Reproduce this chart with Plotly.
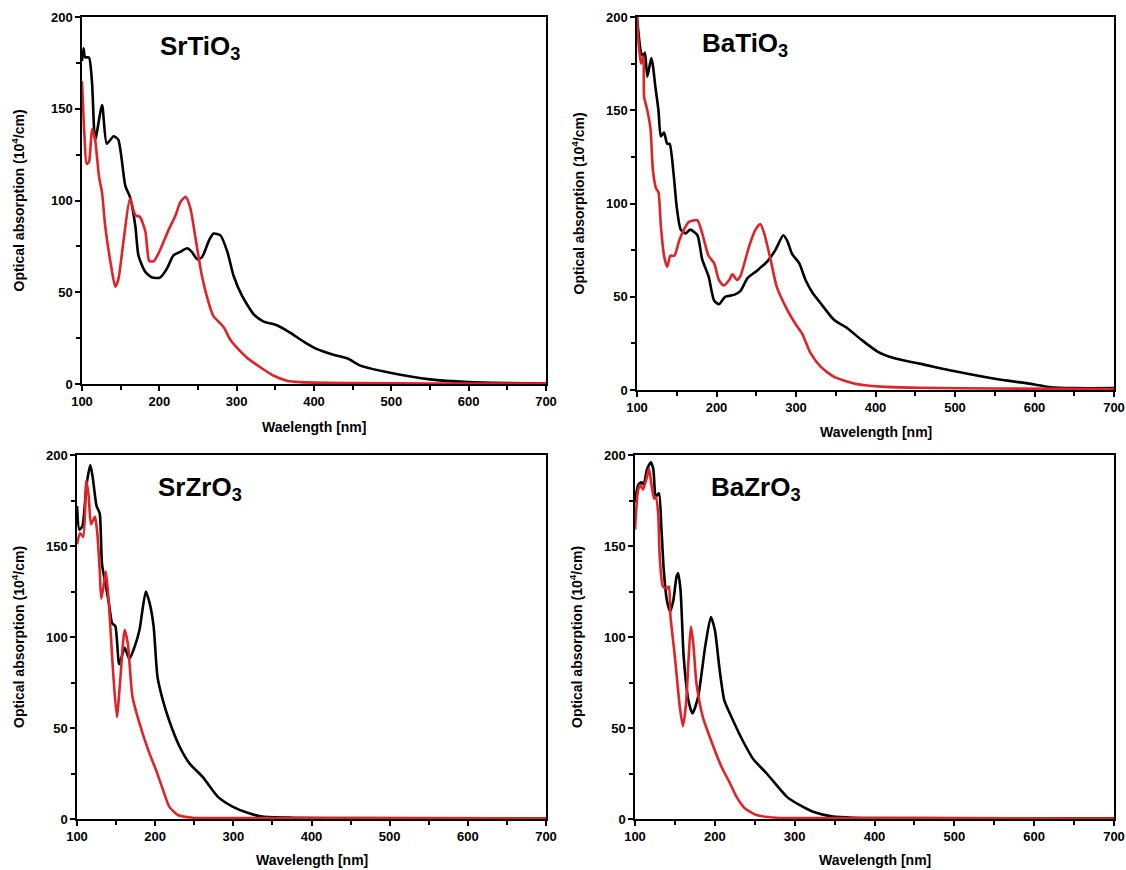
import plotly.graph_objects as go

# ---------------- data ----------------
# SrTiO3
srtio3_black_x = [100,102,104,109,113,117,126,132,141,147,156,162,169,173,182,191,201,210,218,227,236,242,249,255,264,270,279,288,296,307,322,335,352,369,387,404,425,443,460,500,550,600,650,700]
srtio3_black_y = [176,183,178,178,164,133,152,131,135,133,108,102,86,70,61,58,58,63,70,72,74,72,68,69,78,82,81,72,59,48,38,34,32,28,23,19,16,14,10,6,2.5,1,0.5,0.3]
srtio3_red_x = [100,103,106,109,113,117,122,126,130,137,143,147,154,162,169,175,182,187,193,201,212,221,227,234,240,247,255,264,270,283,292,300,313,331,348,365,382,450,550,700]
srtio3_red_y = [165,137,120,121,139,133,113,104,86,66,53,57,79,101,92,91,83,67,67,73,84,92,99,102,96,79,59,44,37,31,24,20,14.5,9,4.5,1.8,1,0.5,0.3,0.2]

# BaTiO3
batio3_black_x = [100,102,105,108,110,113,118,120,123,127,130,134,138,141,146,150,155,161,167,176,182,190,197,203,211,222,230,239,251,264,274,284,289,295,304,312,321,331,348,365,382,403,424,445,457,500,550,600,620,650,700]
batio3_black_y = [200,191,181,179,181,168,178,174,163,150,136,138,132,132,116,98,86,84,86,83,70,61,48,46,50,51,53,60,64,69,75,83,80,73,68,59,52,46.5,37.5,33,27,20.5,17,15,14,10,6,3,1.5,1,1]
batio3_red_x = [100,102,105,108,109,113,117,120,124,127,130,134,138,142,147,153,159,165,176,182,190,197,203,209,216,220,226,230,241,249,255,260,268,276,289,300,308,318,331,348,373,407,457,550,700]
batio3_red_y = [200,186,175,179,157,150,140,118,108,106,88,72,66,72,72,80,86,90,91,84,72,68,59,56,59,62,59,61,77,86,89,84,70,55,43,35,30,20,12.5,7,3.5,1.8,1.2,0.8,0.5]

# SrZrO3
srzro3_black_x = [100,103,107,112,117,120,125,129,132,137,141,145,149,154,161,167,174,180,188,193,198,203,210,218,231,244,261,280,299,320,337,376,450,700]
srzro3_black_y = [172,159,161,183,194.5,188,172,168,140,128,118,107.5,106,85,94,88,95,104,125,118.5,106,78,65,54,40,30.5,23,12.3,6.8,3.1,1.3,0.7,0.5,0.3]
srzro3_red_x = [100,104,108,112,115,118,123,126,129,131,134,137,141,146,151,155,161,165,171,180,191,201,210,218,229,248,300,700]
srzro3_red_y = [151,157,155,186,177,162,166,157,137,121,128,136,117,82,56,74.5,104,96.5,67,52.5,38,27,16,6.8,2.2,0.7,0.5,0.3]

# BaZrO3
bazro3_black_x = [100,104,108,111,115,120,123,126,130,133,136,140,144,148,152,154,157,161,167,172,179,188,195,200,206,212,223,235,248,265,290,306,323,348,373,450,700]
bazro3_black_y = [174,183.5,185,184,192,196,192,177,179,160.5,137,120,114,120,133,135,126,89,65,58,67,95,111,104,82,65,54,43,33,25,12.3,7.7,4,1.3,0.7,0.5,0.4]
bazro3_red_x = [100,104,107,110,115,117.5,121,124,126,129,131,135,140,142.5,144.5,150,156,160,164,167,170,173,177,185,198,208,219,227,237.5,252,277,350,700]
bazro3_red_y = [159,181,183.5,181,188,192.7,182.6,176,177,168,144,127.7,126.7,127.7,111,89,62,51,63.5,87,105.7,96.5,74.5,56,40,29,19.6,12.3,5.9,2.2,0.7,0.5,0.3]

panel_names = ["SrTiO<sub>3</sub>", "BaTiO<sub>3</sub>", "SrZrO<sub>3</sub>", "BaZrO<sub>3</sub>"]
x_titles = ["Waelength [nm]", "Wavelength [nm]", "Wavelength [nm]", "Wavelength [nm]"]
y_title = "Optical absorption (10<sup>4</sup>/cm)"
x_tickvals = [100, 200, 300, 400, 500, 600, 700]
y_tickvals = [0, 50, 100, 150, 200]

series = [
    (srtio3_black_x, srtio3_black_y, srtio3_red_x, srtio3_red_y),
    (batio3_black_x, batio3_black_y, batio3_red_x, batio3_red_y),
    (srzro3_black_x, srzro3_black_y, srzro3_red_x, srzro3_red_y),
    (bazro3_black_x, bazro3_black_y, bazro3_red_x, bazro3_red_y),
]

W, H = 1126, 870


def fx(px):
    return px / W


def fy(py):
    return 1 - py / H


# panel boxes in screen pixels: left, right, top, bottom
boxes = [(82, 546, 17, 384), (637, 1114, 17, 390), (77, 546, 455, 819), (635, 1114, 455, 819)]
label_pos = [(200, 47), (745, 45), (200, 488), (756, 488)]
ytitle_x = [18, 578, 18, 576]
xtitle_y = [427, 432, 860, 860]

RED = "#e02327"
FONT = "Liberation Sans, Arial, sans-serif"

fig = go.Figure()
layout = dict(width=W, height=H, margin=dict(l=0, r=0, t=0, b=0, pad=0, autoexpand=False),
              paper_bgcolor="white", plot_bgcolor="white", showlegend=False,
              font=dict(family=FONT, color="black"))
annotations = []
for i, (bx, by, rx, ry) in enumerate(series):
    n = "" if i == 0 else str(i + 1)
    fig.add_trace(go.Scatter(x=bx, y=by, mode="lines", line=dict(color="black", width=2.6, shape="spline", smoothing=0.6),
                             xaxis="x" + n, yaxis="y" + n))
    fig.add_trace(go.Scatter(x=rx, y=ry, mode="lines", line=dict(color=RED, width=2.6, shape="spline", smoothing=0.6),
                             xaxis="x" + n, yaxis="y" + n))
    l, r, t, b = boxes[i]
    common = dict(showline=True, linecolor="black", linewidth=1.5, mirror=True, showgrid=False, zeroline=False,
                  ticks="outside", ticklen=5, tickwidth=1.5, tickcolor="black", automargin=False,
                  tickfont=dict(family=FONT, size=13, color="black", weight="bold"))
    layout["xaxis" + n] = dict(common, domain=[fx(l), fx(r)], range=[100, 700], tickvals=x_tickvals,
                               anchor="y" + n,
                               minor=dict(dtick=50, tick0=0, ticks="outside", ticklen=4, tickwidth=1.5, tickcolor="black"))
    layout["yaxis" + n] = dict(common, domain=[fy(b), fy(t)], range=[0, 200], tickvals=y_tickvals,
                               anchor="x" + n,
                               minor=dict(dtick=25, tick0=0, ticks="outside", ticklen=4, tickwidth=1.5, tickcolor="black"))
    annotations.append(dict(text="<b>" + panel_names[i] + "</b>", x=fx(label_pos[i][0]), y=fy(label_pos[i][1]),
                            xref="paper", yref="paper", showarrow=False, font=dict(size=26, family=FONT, color="black"),
                            xanchor="center", yanchor="middle"))
    annotations.append(dict(text="<b>" + x_titles[i] + "</b>", x=fx((l + r) / 2), y=fy(xtitle_y[i]),
                            xref="paper", yref="paper", showarrow=False, font=dict(size=14, family=FONT, color="black"),
                            xanchor="center", yanchor="middle"))
    annotations.append(dict(text="<b>" + y_title + "</b>", x=fx(ytitle_x[i]), y=fy((t + b) / 2),
                            xref="paper", yref="paper", showarrow=False, textangle=-90,
                            font=dict(size=14, family=FONT, color="black"),
                            xanchor="center", yanchor="middle"))
layout["annotations"] = annotations
fig.update_layout(**layout)
# remove the default page margin so the figure fills the window exactly
fig.write_html("out.html", config={"displayModeBar": False},
               post_script="document.body.style.margin='0px';document.body.style.overflow='hidden';")
